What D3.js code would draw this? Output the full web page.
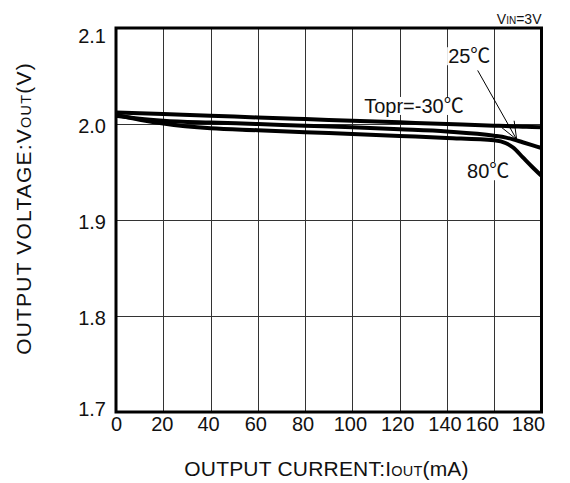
<!DOCTYPE html>
<html><head><meta charset="utf-8">
<script src="https://cdn.jsdelivr.net/npm/d3@7"></script>
<style>
body{margin:0;background:#fff;}
text{font-family:"Liberation Sans",Arial,"Noto Sans CJK JP",sans-serif;fill:#111;}
</style></head><body>
<svg id="chart" width="570" height="483"></svg>
<script>
// ---- data ----
const xTicks = [0, 20, 40, 60, 80, 100, 120, 140, 160, 180];
const yTicks = [1.7, 1.8, 1.9, 2.0, 2.1];
const yTickLabels = ["1.7", "1.8", "1.9", "2.0", "2.1"];
const currents = [0, 10, 20, 40, 60, 80, 100, 120, 140, 160, 165, 168, 172, 176, 180];
const vTm30 = [2.0120, 2.0112, 2.0103, 2.0086, 2.0068, 2.0051, 2.0034, 2.0017, 2.0000, 1.9982, 1.9978, 1.9975, 1.9972, 1.9968, 1.9965];
const vT25  = [2.0085, 2.0055, 2.0035, 2.0015, 2.0000, 1.9982, 1.9965, 1.9945, 1.9922, 1.9878, 1.9858, 1.9840, 1.9810, 1.9780, 1.9750];
const vT80  = [2.0095, 2.0045, 2.0005, 1.9955, 1.9935, 1.9915, 1.9895, 1.9875, 1.9855, 1.9830, 1.9800, 1.9755, 1.9655, 1.9555, 1.9460];
const seriesNames = ["Topr=-30℃", "25℃", "80℃"];

const svg = d3.select("#chart");
const L = 116, R = 541.5, T = 28, B = 412;
const x = d3.scaleLinear().domain([0, 180]).range([L, R]);
const y = d3.scaleLinear().domain([1.7, 2.1]).range([B, T]);

// grid
svg.append("g").selectAll("line.v").data(xTicks.slice(1, -1)).join("line")
  .attr("x1", d => Math.round(x(d)) + 0.5).attr("x2", d => Math.round(x(d)) + 0.5)
  .attr("y1", T).attr("y2", B).attr("stroke", "#333").attr("stroke-width", 1);
svg.append("g").selectAll("line.h").data(yTicks.slice(1, -1)).join("line")
  .attr("x1", L).attr("x2", R)
  .attr("y1", d => Math.round(y(d)) + 0.5).attr("y2", d => Math.round(y(d)) + 0.5)
  .attr("stroke", "#333").attr("stroke-width", 1);

// curves
const line = d3.line().x((d, i) => x(currents[i])).y(d => y(d)).curve(d3.curveMonotoneX);
[vTm30, vT25, vT80].forEach(vals => {
  svg.append("path").attr("d", line(vals)).attr("fill", "none")
    .attr("stroke", "#000").attr("stroke-width", 4).attr("stroke-linejoin", "round");
});

// labels with white backgrounds
function label(txt, px, py) {
  const g = svg.append("g");
  const t = g.append("text").attr("x", px).attr("y", py).attr("font-size", 20).text(txt);
  const bb = t.node().getBBox();
  g.insert("rect", "text").attr("x", bb.x - 1).attr("y", bb.y + 2)
    .attr("width", bb.width + 2).attr("height", bb.height - 4).attr("fill", "#fff");
  return g;
}
label(seriesNames[0], x(105), y(2.0115));
label(seriesNames[1], x(140.5), y(2.0633));
label(seriesNames[2], x(148.5), y(1.9435));

// arrow to 25C curve
const tip = [x(169.5), y(1.9838)];
const start = [x(153), y(2.0558)];
svg.append("line").attr("x1", start[0]).attr("y1", start[1]).attr("x2", tip[0]).attr("y2", tip[1])
  .attr("stroke", "#000").attr("stroke-width", 1);
const ang = Math.atan2(start[1] - tip[1], start[0] - tip[0]);
[-0.38, 0.38].forEach(da => {
  svg.append("line").attr("x1", tip[0]).attr("y1", tip[1])
    .attr("x2", tip[0] + 19 * Math.cos(ang + da)).attr("y2", tip[1] + 19 * Math.sin(ang + da))
    .attr("stroke", "#000").attr("stroke-width", 1);
});

// frame
svg.append("rect").attr("x", L).attr("y", T).attr("width", R - L).attr("height", B - T)
  .attr("fill", "none").attr("stroke", "#000").attr("stroke-width", 3);

// axes
const xAxis = svg.append("g").attr("transform", `translate(0,${B})`)
  .call(d3.axisBottom(x).tickValues(xTicks).tickSize(0).tickPadding(5).tickFormat(d3.format("d")));
xAxis.select(".domain").remove();
xAxis.selectAll("text").attr("font-size", 20).attr("font-family", null)
  .attr("dx", d => d === 180 ? -13.5 : d === 160 ? -12.5 : d === 0 ? 0 : d === 20 ? -1.5 : -2.5);

const yAxis = svg.append("g").attr("transform", `translate(${L},0)`)
  .call(d3.axisLeft(y).tickValues(yTicks).tickSize(0).tickPadding(10).tickFormat((d, i) => yTickLabels[i]));
yAxis.select(".domain").remove();
yAxis.selectAll("text").attr("font-size", 20).attr("font-family", null)
  .attr("dy", d => d === 2.1 ? "0.73em" : d === 1.7 ? "0.15em" : "0.42em");

// titles
const xt = svg.append("text").attr("x", 326.5).attr("y", 476).attr("text-anchor", "middle")
  .attr("font-size", 21).attr("letter-spacing", 0.2);
xt.append("tspan").text("OUTPUT CURRENT:I");
xt.append("tspan").attr("font-size", 14.5).text("OUT");
xt.append("tspan").text("(mA)");

const yt = svg.append("text").attr("transform", `translate(31,208.5) rotate(-90)`)
  .attr("text-anchor", "middle").attr("font-size", 21).attr("letter-spacing", 1.2);
yt.append("tspan").text("OUTPUT VOLTAGE:V");
yt.append("tspan").attr("font-size", 14.5).text("OUT");
yt.append("tspan").text("(V)");

const vin = svg.append("text").attr("x", R).attr("y", 24).attr("text-anchor", "end").attr("font-size", 14);
vin.append("tspan").text("V");
vin.append("tspan").attr("font-size", 10).text("IN");
vin.append("tspan").text("=3V");
</script>
</body></html>
